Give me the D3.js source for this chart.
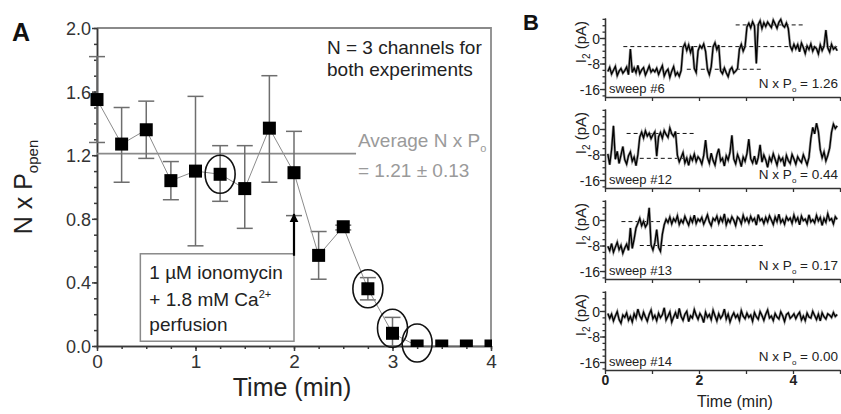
<!DOCTYPE html>
<html><head><meta charset="utf-8">
<script src="https://cdn.jsdelivr.net/npm/d3@7"></script>
<style>body{margin:0;background:#fff} svg{display:block} text{font-family:"Liberation Sans",Arial,sans-serif}</style>
</head><body><svg id="c" width="841" height="414"></svg>
<script>
// ---------- Panel A data ----------
const timeA   = [0,0.25,0.5,0.75,1,1.25,1.5,1.75,2,2.25,2.5,2.75,3,3.25,3.5,3.75,4];
const nPopen  = [1.55,1.27,1.36,1.04,1.10,1.08,0.99,1.37,1.09,0.57,0.75,0.36,0.08,0,0,0,0];
const errLow  = [1.28,1.03,1.18,0.92,0.63,0.91,0.74,1.03,0.82,0.42,0.73,0.29,0.00,0,0,0,0];
const errHigh = [1.82,1.50,1.54,1.16,1.57,1.26,1.26,1.70,1.35,0.72,0.76,0.43,0.18,0,0,0,0];
const circledTimes = [1.25,2.75,3,3.25];
const averageNPo = 1.21;
const yTicksA = [0,0.4,0.8,1.2,1.6,2.0];
const xTicksA = [0,1,2,3,4];

// ---------- Panel B data ----------
const sweepNames = ["sweep #6","sweep #12","sweep #13","sweep #14"];
const sweepNPo   = ["1.26","0.44","0.17","0.00"];
const traceStart = 0.06, traceStep = 0.04; // minutes
const trace6 = [
 -10.5,-9.2,-11.3,-10.1,-8.9,-11.8,-10.4,-9.6,-11.0,-10.2,-9.1,-11.5,-3.5,-10.8,-9.4,-10.9,-8.6,-11.2,-10.0,-9.3,-11.6,-10.3,-8.8,-10.7,-9.9,
 -10.6,-9.5,-11.4,-10.0,-8.7,-11.9,-10.5,-9.8,-12.3,-10.4,-9.0,-11.7,-10.8,-12.0,-10.2,-3.0,-1.8,-3.9,-2.2,-4.5,-2.6,-9.5,-10.8,-4.0,-2.4,
 -3.2,-1.9,-4.2,-9.8,-11.5,-9.0,-2.8,-1.5,-3.6,-2.2,-10.3,-11.2,-9.4,-10.9,-12.1,-10.0,-9.2,-11.0,-10.4,-9.6,-3.5,-2.0,-4.1,-2.7,3.5,
 4.6,3.2,5.1,3.8,-8.0,4.2,5.4,3.0,4.8,3.6,5.0,4.1,3.3,5.6,4.4,3.1,4.9,5.8,4.0,3.4,4.7,3.0,-2.5,-3.8,-2.0,
 -3.4,-2.1,-4.3,-1.6,-3.0,-4.8,-2.5,-3.6,-1.9,-4.1,-2.8,-3.3,-5.0,-2.2,-3.9,-2.6,2.5,-3.1,-4.4,-2.0,-3.5,-2.9,-4.0];
const trace12 = [
 -7.8,-11.2,-6.5,1.0,-9.5,-7.0,-10.8,-8.2,-5.5,-9.6,-11.0,-8.4,-7.2,-10.1,-8.8,-11.5,-8.0,-2.5,-1.0,-2.8,-0.6,-2.2,-1.3,-3.0,-1.8,
 -0.9,-8.5,-2.4,-1.1,-2.9,-0.5,-1.7,-2.6,0.3,-1.5,-2.3,-0.8,-8.2,-10.3,-8.9,-7.4,-10.6,-9.1,-11.4,-8.6,-9.8,-7.9,-10.2,-8.7,-9.5,
 -11.0,-8.3,-3.5,-9.0,-10.7,-7.6,-9.9,-11.3,-8.1,-6.2,-10.0,-9.2,-11.6,-8.4,-9.7,-7.3,-2.0,-9.4,-10.9,-8.0,-9.6,-11.8,-8.8,-10.1,-7.7,
 -3.2,-9.3,-10.6,-8.5,-11.1,-9.0,-5.0,-10.4,-8.2,-9.7,-12.0,-8.9,-10.2,-7.8,-9.5,-11.3,-8.6,-10.0,-9.1,-11.7,-8.3,-9.9,-10.8,-8.0,-9.4,
 -11.0,-8.7,-9.8,-10.5,-8.1,-9.6,-11.2,-8.9,-3.0,0.5,-1.5,1.8,-0.8,-6.5,-9.0,-7.2,-10.0,-8.3,-6.0,-1.0,1.5,0.2,1.0];
const trace13 = [
 -8.2,-9.6,-7.4,-10.1,-8.5,-7.0,-9.3,-8.0,-10.4,-8.8,-7.6,-9.5,-2.5,-8.9,-6.0,-2.5,-1.0,0.5,-1.8,-0.4,-2.2,-1.2,3.8,-7.8,-9.4,
 -7.2,-3.0,-8.6,-9.8,-4.5,-1.5,0.2,-0.8,0.9,-1.2,0.4,-0.5,1.3,-1.4,0.0,-0.9,1.1,-0.3,-1.6,0.6,-0.7,1.5,-1.1,0.3,-0.4,
 0.8,-1.3,0.1,1.6,-0.6,-1.8,0.5,-0.2,1.2,-1.0,0.7,-0.5,1.9,-1.5,0.2,-0.8,1.0,-0.1,-1.7,0.9,0.3,-1.2,1.4,-0.4,0.6,
 -0.9,1.1,-0.3,0.5,-1.6,1.7,-0.2,0.4,-1.1,0.8,-0.6,1.3,0.0,-1.4,0.9,-0.5,1.8,-0.8,0.2,-1.3,1.0,-0.1,0.6,-1.0,1.5,
 -0.4,0.7,-1.5,1.2,-0.2,0.3,-1.1,1.6,-0.6,0.1,-0.9,1.4,-0.3,0.8,-1.7,0.5,-0.7,1.9,-0.1,0.4,-1.2,1.0,0.2];
const trace14 = [
 -0.8,-2.3,-1.0,-3.1,-1.6,-0.2,-2.7,-3.8,-1.3,-2.0,-0.6,-2.9,-1.7,-3.4,-0.9,-2.2,0.6,-1.5,-2.6,-0.4,-1.9,-3.2,-1.1,0.3,-2.4,
 -1.4,-3.0,-0.7,-2.1,-1.2,1.0,-2.8,-1.6,-0.3,-3.5,-1.9,-0.5,-2.4,0.8,-1.7,-2.9,-1.0,-0.1,-3.3,-1.5,-2.2,0.4,-1.3,-2.6,-0.8,
 -1.8,-3.6,-0.4,-2.0,-1.1,-2.7,0.2,-1.5,-3.1,-0.9,-2.3,-1.4,0.6,-2.5,-1.0,-3.4,-1.7,-0.6,-2.1,-1.2,-2.9,0.1,-1.6,-2.4,-0.7,
 -2.0,-1.3,-3.2,-0.5,-1.8,-2.6,-0.2,-1.4,-2.9,-1.0,0.3,-2.2,-1.6,-3.0,-0.8,-1.9,-2.5,-0.3,-1.5,-3.3,-1.1,-0.6,-2.3,-1.7,-0.9,
 -2.4,-1.2,-0.4,-2.8,-1.6,-3.0,-0.7,-1.9,-2.2,-0.1,-1.4,-2.7,-1.0,-3.1,-0.6,-1.8,-2.5,-0.9,-1.3,-2.0,-0.5,-1.7,-1.1];
const traces = [trace6, trace12, trace13, trace14];
// dashed reference levels: [t start, t end, current pA]
const levels6  = [[2.78,4.22,4.1],[0.39,4.94,-2.7],[1.74,3.37,-9.8]];
const levels12 = [[0.46,1.92,-1.4],[0.74,1.95,-9.2]];
const levels13 = [[0.35,1.17,-0.5],[0.74,3.40,-8.0]];
const levels14 = [];
const sweepLevels = [levels6, levels12, levels13, levels14];
const yTicksB = [-16,-8,0];
const xTicksB = [0,2,4];

// ---------- drawing ----------
const svg = d3.select("#c");
const FONT = '"Liberation Sans",Arial,sans-serif';

// ===== Panel A =====
const xA = d3.scaleLinear().domain([0,4]).range([97,491]);
const yA = d3.scaleLinear().domain([0,2]).range([346,28]);
const gA = svg.append("g");

gA.append("defs").append("clipPath").attr("id","clipA")
  .append("rect").attr("x",80).attr("y",0).attr("width",412).attr("height",347);

// frame (top/right)
gA.append("path").attr("d",`M${xA(0)},${yA(2)}H${xA(4)}V${yA(0)}`)
  .attr("fill","none").attr("stroke","#8a8a8a").attr("stroke-width",1.8);

// axes
const axL = gA.append("g").attr("transform",`translate(${xA(0)},0)`)
  .call(d3.axisLeft(yA).tickValues(d3.range(0,2.001,0.1)).tickSize(3).tickSizeOuter(0).tickFormat(""));
const axL2 = gA.append("g").attr("transform",`translate(${xA(0)},0)`)
  .call(d3.axisLeft(yA).tickValues(yTicksA).tickSize(5).tickSizeOuter(0).tickFormat(d3.format(".1f")));
const axB = gA.append("g").attr("transform",`translate(0,${yA(0)})`)
  .call(d3.axisBottom(xA).tickValues(d3.range(0,4.001,0.25)).tickSize(3).tickSizeOuter(0).tickFormat(""));
const axB2 = gA.append("g").attr("transform",`translate(0,${yA(0)})`)
  .call(d3.axisBottom(xA).tickValues(xTicksA).tickSize(5).tickSizeOuter(0).tickFormat(d3.format("d")));
[axL,axL2,axB,axB2].forEach(a=>{
  a.selectAll("path,line").attr("stroke","#3a3a3a").attr("stroke-width",1.5);
  a.selectAll("text").attr("fill","#333").style("font-family",FONT);
});
axL2.selectAll("text").style("font-size","18px").attr("x",-6).attr("dy","0.36em");
axB2.selectAll("text").style("font-size","19px").attr("y",9);

// average line
gA.append("line").attr("x1",xA(0)).attr("x2",xA(2.63)).attr("y1",yA(averageNPo)).attr("y2",yA(averageNPo))
  .attr("stroke","#8a8a8a").attr("stroke-width",1.8);

const pts = timeA.map((t,i)=>({t, v:nPopen[i], lo:errLow[i], hi:errHigh[i]}));
const plot = gA.append("g").attr("clip-path","url(#clipA)");

// error bars
const eb = plot.selectAll("g.eb").data(pts.filter(d=>d.hi>d.lo)).join("g").attr("stroke","#6e6e6e").attr("stroke-width",1.5);
eb.append("line").attr("x1",d=>xA(d.t)).attr("x2",d=>xA(d.t)).attr("y1",d=>yA(d.lo)).attr("y2",d=>yA(d.hi));
eb.append("line").attr("x1",d=>xA(d.t)-8).attr("x2",d=>xA(d.t)+8).attr("y1",d=>yA(d.lo)).attr("y2",d=>yA(d.lo));
eb.append("line").attr("x1",d=>xA(d.t)-8).attr("x2",d=>xA(d.t)+8).attr("y1",d=>yA(d.hi)).attr("y2",d=>yA(d.hi));

// connecting line
plot.append("path").datum(pts)
  .attr("d",d3.line().x(d=>xA(d.t)).y(d=>yA(d.v)))
  .attr("fill","none").attr("stroke","#8c8c8c").attr("stroke-width",1);

// markers
plot.selectAll("rect.m").data(pts).join("rect")
  .attr("x",d=>xA(d.t)-6.5).attr("y",d=>yA(d.v)-6.5).attr("width",13).attr("height",13).attr("fill","#000");

// circled points
gA.selectAll("ellipse").data(circledTimes).join("ellipse")
  .attr("cx",t=>xA(t)).attr("cy",t=>Math.min(yA(nPopen[timeA.indexOf(t)]), 343)-(t===3?5:0))
  .attr("rx",15).attr("ry",19).attr("fill","none").attr("stroke","#111").attr("stroke-width",1.6);

// legend box (ionomycin)
const boxX0 = xA(0.44), boxX1 = xA(2.0), boxY0 = yA(0.58), boxY1 = yA(0.03);
gA.append("rect").attr("x",boxX0).attr("y",boxY0).attr("width",boxX1-boxX0).attr("height",boxY1-boxY0)
  .attr("fill","#fff").attr("stroke","#8a8a8a").attr("stroke-width",1.5);
const bt = gA.append("g").style("font-family",FONT).style("font-size","19px").attr("fill","#222");
bt.append("text").attr("x",boxX0+9).attr("y",279).text("1 \u00B5M ionomycin");
const l2 = bt.append("text").attr("x",boxX0+9).attr("y",306).text("+ 1.8 mM Ca");
l2.append("tspan").attr("dy",-8).style("font-size","11px").text("2+");
bt.append("text").attr("x",boxX0+9).attr("y",331).text("perfusion");

// arrow
gA.append("defs").append("marker").attr("id","ah").attr("viewBox","0 0 10 10").attr("refX",9).attr("refY",5)
  .attr("markerWidth",4).attr("markerHeight",5).attr("orient","auto")
  .append("path").attr("d","M0,0L10,5L0,10z").attr("fill","#000");
gA.append("line").attr("x1",xA(2)).attr("x2",xA(2)).attr("y1",boxY0+2).attr("y2",yA(0.83))
  .attr("stroke","#000").attr("stroke-width",2.2).attr("marker-end","url(#ah)");

// annotation texts
const an = gA.append("g").style("font-family",FONT).style("font-size","19px");
an.append("text").attr("x",327).attr("y",54).attr("fill","#222").text("N = 3 channels for");
an.append("text").attr("x",327).attr("y",76).attr("fill","#222").text("both experiments");
const av = an.append("text").attr("x",358).attr("y",147).attr("fill","#9a9a9a").text("Average N x P");
av.append("tspan").attr("dy",5).style("font-size","11px").text("o");
an.append("text").attr("x",358).attr("y",177).attr("fill","#9a9a9a").text("= 1.21 \u00B1 0.13");

// axis titles
svg.append("text").attr("x",xA(2)-2).attr("y",396).attr("text-anchor","middle")
  .style("font-family",FONT).style("font-size","25px").attr("fill","#222").text("Time (min)");
const yl = svg.append("text").attr("transform",`translate(32,${(yA(0)+yA(2))/2}) rotate(-90)`).attr("text-anchor","middle")
  .style("font-family",FONT).style("font-size","25px").attr("fill","#222").text("N x P");
yl.append("tspan").attr("dy",6).style("font-size","15px").text("open");

svg.append("text").attr("x",12).attr("y",41).style("font-family",FONT).style("font-size","25px")
  .style("font-weight","bold").attr("fill","#111").text("A");
svg.append("text").attr("x",523).attr("y",30).style("font-family",FONT).style("font-size","22px")
  .style("font-weight","bold").attr("fill","#111").text("B");

// ===== Panel B =====
const xB = d3.scaleLinear().domain([0,5]).range([605,840]);
traces.forEach((tr,k)=>{
  const top = 18 + 91*k;
  const y = d3.scaleLinear().domain([-18.5,6.27]).range([top+79, top]);
  const g = svg.append("g");
  // y axis
  const a1 = g.append("g").attr("transform",`translate(${xB(0)},0)`)
    .call(d3.axisLeft(y).tickValues(d3.range(-18,6.1,2)).tickSize(2.5).tickSizeOuter(0).tickFormat(""));
  const a2 = g.append("g").attr("transform",`translate(${xB(0)},0)`)
    .call(d3.axisLeft(y).tickValues(yTicksB).tickSize(5).tickSizeOuter(0).tickFormat(d=>String(d)));
  const a3 = g.append("g").attr("transform",`translate(0,${top+79})`)
    .call(d3.axisBottom(xB).tickValues([0,1,2,3,4,5]).tickSize(4).tickSizeOuter(0)
      .tickFormat(d=> (k===3 && xTicksB.includes(d)) ? String(d) : ""));
  [a1,a2,a3].forEach(a=>{
    a.selectAll("path,line").attr("stroke","#333").attr("stroke-width",1.3);
    a.selectAll("text").attr("fill","#222").style("font-family",FONT).style("font-size","14px");
  });
  a2.selectAll("text").attr("x",-5).attr("dy","0.36em");
  a3.selectAll("text").attr("y",5).style("font-size","14px").style("font-weight","bold");

  // dashed levels
  g.selectAll("line.lv").data(sweepLevels[k]).join("line")
    .attr("x1",d=>xB(d[0])).attr("x2",d=>xB(d[1])).attr("y1",d=>y(d[2])).attr("y2",d=>y(d[2]))
    .attr("stroke","#111").attr("stroke-width",1).attr("stroke-dasharray","4,3");

  // trace (grey halo + black core)
  const ln = d3.line().x((v,i)=>xB(traceStart+traceStep*i)).y(v=>y(v));
  g.append("path").datum(tr).attr("d",ln).attr("fill","none").attr("stroke","#999").attr("stroke-width",2.6);
  g.append("path").datum(tr).attr("d",ln).attr("fill","none").attr("stroke","#000").attr("stroke-width",1.3);

  // labels
  g.append("text").attr("x",609).attr("y",top+75).style("font-family",FONT).style("font-size","13px")
    .attr("fill","#222").text(sweepNames[k]);
  const np = g.append("text").attr("x",838).attr("y",top+70).attr("text-anchor","end")
    .style("font-family",FONT).style("font-size","13.5px").attr("fill","#222").text("N x P");
  np.append("tspan").attr("dy",4).style("font-size","8px").text("o");
  np.append("tspan").attr("dy",-4).text(" = " + sweepNPo[k]);

  const il = g.append("text").attr("transform",`translate(586,${top+24}) rotate(-90)`).attr("text-anchor","middle")
    .style("font-family",FONT).style("font-size","15px").attr("fill","#222").text("I");
  il.append("tspan").attr("dy",4).style("font-size","10px").text("2");
  il.append("tspan").attr("dy",-4).text(" (pA)");
});
svg.append("text").attr("x",735).attr("y",407).attr("text-anchor","middle")
  .style("font-family",FONT).style("font-size","16px").attr("fill","#222").text("Time (min)");
</script></body></html>
